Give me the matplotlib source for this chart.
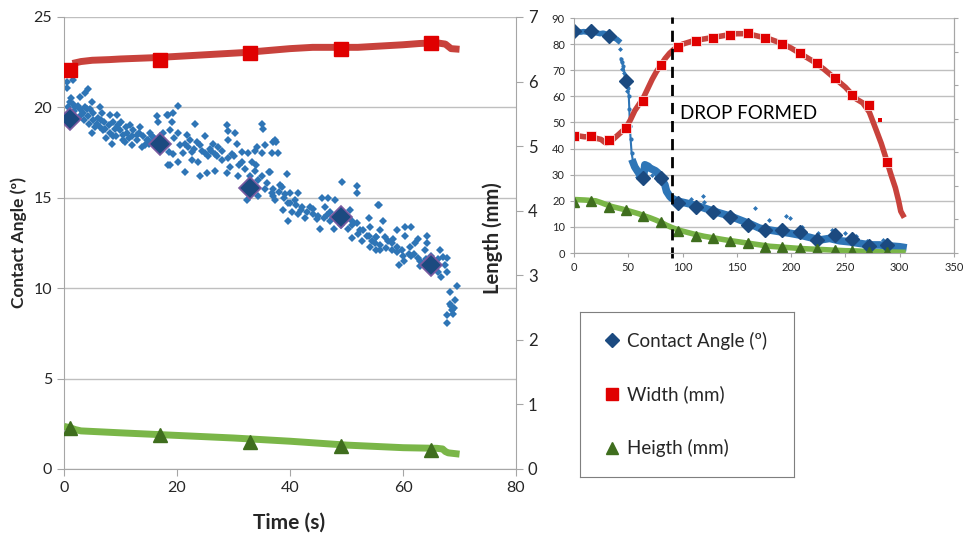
import matplotlib.pyplot as plt
from matplotlib.lines import Line2D

plt.rcParams['font.family'] = ['Lato', 'DejaVu Sans']

# ---- evaporation run (left chart) ----
ca_time = [
    0.5, 1.6, 0.5, 4.2, 3.7, 2.8, 1.3, 1.6, 0.7, 2.5, 3.7, 4.6, 5.1, 6.4, 6.7, 3.4, 4.2, 5.1, 5.8, 5.0,
    6.4, 6.9, 8.1, 8.1, 9.4, 8.7, 9.6, 9.9, 8.7, 8.5, 10.4, 11.2, 11.7, 12.2, 13.5, 12.9, 12.0, 13.8, 14.7, 15.2,
    16.5, 16.6, 15.8, 17.5, 18.4, 18.4, 14.9, 1.0, 2.0, 3.0, 4.0, 5.0, 6.0, 7.0, 8.0, 9.0, 10.0, 11.0, 12.0, 13.0,
    14.0, 15.0, 16.0, 17.0, 7.5, 10.5, 2.2,
    1.8, 2.8, 3.5, 4.5, 5.5, 6.5, 7.2, 9.2, 10.8, 11.5, 13.2, 14.3, 15.5, 16.8, 18.0,
    20.2, 19.3, 18.2, 19.1, 23.2, 18.8, 20.2, 21.7, 22.3, 23.5, 25.0, 28.8, 29.1, 30.3, 35.0, 35.3, 37.0, 35.6, 34.1, 30.6,
    29.1, 26.4, 27.3, 25.8, 24.4, 22.6, 21.1, 19.3, 18.5, 20.2, 18.8, 21.4, 24.1, 22.6, 23.8, 25.5, 26.7, 27.9, 29.7, 31.5,
    32.6, 33.8, 35.0, 33.2, 31.5, 29.4, 28.8, 30.8, 26.7, 25.3, 33.8, 34.4, 35.6, 34.4, 36.2, 36.8, 32.3,
    19.5, 20.5, 21.5, 22.0, 23.0, 24.0, 25.0, 26.0, 27.0, 28.0, 29.0, 30.0, 31.0, 32.0, 33.0, 34.0, 35.0,
    37.3, 37.6, 36.8, 37.9, 36.5, 39.4, 38.2, 38.5, 37.0, 37.3, 39.1, 40.0, 41.5, 40.9, 39.7, 38.8, 40.3, 39.7, 41.5, 42.1,
    42.7, 43.5, 44.1, 44.7, 45.3, 45.6, 46.8, 48.0, 46.2, 46.5, 47.1, 47.7, 49.2, 51.8, 51.8, 50.6, 50.9, 50.3, 51.8, 52.4,
    50.9, 52.7, 53.9, 54.2, 53.6, 54.5, 54.2, 55.3, 55.6, 55.3,
    36.0, 37.0, 38.0, 39.0, 40.0, 41.0, 42.0, 43.0, 44.0, 45.0, 46.0, 47.0, 48.0, 49.0, 50.0,
    55.8, 56.5, 55.9, 55.3, 56.8, 57.4, 55.9, 58.9, 60.4, 61.5, 60.4, 58.3, 58.9, 59.8, 58.0, 59.2, 60.1, 61.2, 62.1, 62.7,
    64.2, 64.2, 61.5, 62.7, 63.0, 63.9, 66.5, 67.1, 67.7, 66.2, 67.4, 66.2, 66.8, 67.7, 69.5, 68.3, 69.2, 68.3, 68.6, 68.9,
    67.7, 67.7, 69.0, 68.5,
    51.0, 52.0, 53.0, 54.0, 55.0, 56.0, 57.0, 58.0, 59.0, 60.0, 61.0, 62.0, 63.0, 64.0, 65.0, 66.0]
ca_angle = [
    21.1, 21.5, 21.4, 21.0, 20.8, 20.6, 20.5, 20.2, 20.0, 20.1, 20.0, 19.9, 19.7, 20.0, 19.7, 19.7, 19.5, 19.3, 19.1, 18.6,
    18.9, 18.75, 18.6, 19.6, 19.6, 19.2, 19.0, 18.75, 18.4, 18.0, 18.2, 18.6, 19.0, 18.75, 18.9, 18.5, 17.9, 17.8, 18.2, 18.6,
    19.5, 19.2, 18.1, 18.6, 19.6, 16.8, 18.2, 20.3, 20.0, 19.6, 19.9, 20.3, 19.4, 19.2, 19.0, 18.8, 19.2, 18.9, 18.4, 18.2,
    18.4, 18.0, 18.3, 17.8, 18.3, 18.5, 19.3,
    19.8, 19.9, 19.3, 19.1, 18.9, 19.3, 18.8, 18.4, 18.1, 18.3, 18.6, 17.9, 18.4, 18.2, 18.0,
    20.1, 19.7, 19.6, 19.2, 19.1, 18.75, 18.6, 18.5, 18.2, 18.1, 18.4, 19.0, 18.7, 18.6, 19.1, 18.8, 18.1, 17.9, 17.8, 18.0,
    18.2, 18.0, 17.8, 17.7, 17.6, 17.55, 17.5, 17.4, 17.55, 17.0, 16.8, 16.4, 16.2, 17.1, 17.0, 17.3, 17.4, 17.1, 17.4, 17.55,
    17.5, 17.6, 17.5, 17.0, 17.0, 16.7, 16.35, 16.2, 16.5, 16.35, 16.5, 16.0, 15.5, 15.1, 16.4, 15.25, 14.9,
    18.3, 17.9, 18.0, 17.8, 17.7, 17.9, 17.5, 17.6, 17.3, 17.6, 17.2, 17.3, 16.8, 16.6, 16.2, 16.8, 16.2,
    18.2, 18.1, 17.5, 17.5, 16.4, 16.3, 15.7, 15.6, 15.1, 14.9, 15.2, 15.25, 15.25, 14.9, 14.7, 14.3, 14.2, 13.7, 14.1, 14.5,
    13.9, 14.5, 14.1, 13.8, 13.3, 15.0, 15.0, 14.9, 14.5, 14.05, 13.7, 13.3, 15.9, 15.65, 15.25, 14.3, 13.7, 13.3, 13.6, 13.2,
    12.8, 12.6, 13.9, 13.4, 12.9, 12.6, 12.3, 12.85, 14.6, 12.1,
    15.8, 15.5, 15.3, 15.0, 14.7, 14.6, 14.3, 14.2, 14.4, 14.0, 13.9, 14.2, 13.9, 13.5, 13.9,
    14.6, 13.7, 13.2, 12.85, 12.85, 12.6, 12.1, 13.2, 13.4, 13.4, 12.9, 12.7, 12.3, 12.1, 12.1, 11.3, 11.5, 12.3, 12.5, 12.7,
    12.9, 12.5, 11.8, 11.65, 11.2, 12.1, 12.1, 11.7, 11.65, 11.6, 11.3, 10.9, 10.6, 10.9, 10.1, 9.8, 9.35, 9.1, 8.8, 8.6,
    8.5, 8.05, 8.9, 9.0,
    13.5, 13.0, 13.2, 12.9, 12.5, 12.4, 12.2, 12.5, 12.0, 11.8, 11.9, 11.9, 11.5, 11.6, 11.8, 11.3]

mark_time = [1, 17, 33, 49, 65]
mark_angle = [19.35, 18.0, 15.55, 13.95, 11.3]
mark_width = [6.18, 6.33, 6.44, 6.51, 6.59]
mark_height = [0.64, 0.52, 0.42, 0.35, 0.29]

width_time = [1.5, 3, 5, 8, 10, 13, 16, 20, 24, 28, 32, 36, 40, 44, 48, 52, 56, 60, 63, 66, 67.5, 68.5, 70]
width_mm = [6.28, 6.31, 6.33, 6.34, 6.35, 6.36, 6.37, 6.39, 6.41, 6.43, 6.45, 6.48, 6.51, 6.53, 6.53, 6.53,
            6.55, 6.57, 6.59, 6.60, 6.58, 6.51, 6.50]

height_time = [0, 1, 2, 3, 10, 20, 30, 40, 50, 60, 66, 67, 67.5, 68, 70]
height_mm = [0.66, 0.64, 0.61, 0.59, 0.56, 0.52, 0.48, 0.43, 0.37, 0.33, 0.32, 0.31, 0.27, 0.25, 0.23]

# ---- drop formation run (right chart) ----
drop_mark_time = [0, 16, 32, 48, 64, 80, 96, 112, 128, 144, 160, 176, 192, 208, 224, 240, 256, 272, 288]
drop_mark_angle = [85, 85, 83, 66, 28.7, 28.7, 19.1, 17.8, 15.9, 13.7, 10.8, 8.8, 8.8, 8.2, 5.0, 6.9, 5.3, 2.7, 3.1]
drop_mark_width = [44.7, 44.7, 43.2, 48, 58.2, 71.9, 79, 81.3, 82.2, 83.5, 84.2, 82.2, 80, 76.5, 72.7, 67.2,
                   60.4, 56.8, 34.7]
drop_mark_height = [19.7, 20, 17.6, 16.3, 14.2, 11.7, 8.6, 6.7, 5.7, 4.7, 3.7, 2.4, 2.2, 1.8, 1.5, 1.2, 0.9, 0.5, 0.5]

drop_ca_time_a = [0, 3, 6, 9, 12, 15, 18, 21, 24, 27, 30, 33, 36, 39, 41]
drop_ca_a = [85, 85, 84.6, 84.8, 84.6, 84.5, 84.6, 84.3, 84, 84.2, 83.8, 83, 82.5, 82, 81.3]
drop_ca_time_drop = [43.2, 43.9, 45.4, 47, 48.5, 50, 50.5, 51, 51.5, 52.2, 53.1, 54.6]
drop_ca_drop = [74.5, 73, 71.7, 67.8, 66, 63.3, 60, 55, 48.6, 43.5, 38.3, 34.5]
drop_ca_time_b = [54.6, 56, 57.7, 60.7, 63.8, 65.3, 68.4, 70, 73, 75, 77.6, 79.1, 81, 83.7, 85.3, 88.3, 90,
                  92.9, 96, 100.6, 106.7, 115.9, 125.1, 134.3, 143.5, 152.7, 161.9, 171.1, 180.3, 189.5,
                  198.7, 207.9, 217.1, 226.3, 235.5, 244.7, 253.9, 263.1, 272.3, 281.5, 290.7, 299.9, 303]
drop_ca_b = [34.5, 33, 31.9, 30, 28.1, 33.8, 33.2, 32.5, 31.9, 31.5, 30.6, 28.1, 28, 26.2, 23.6, 21.7, 21,
             20.4, 19.8, 19.4, 18.8, 17.8, 16.5, 15.3, 14.2, 12.7, 11.2, 9.5, 8.8, 8.2, 7.6, 6.9, 6.0, 5.0,
             5.6, 4.7, 4.3, 3.7, 3.1, 3.1, 2.7, 2.4, 2.2]
drop_ca_stray_time = [108, 119, 146.6, 166.5, 180, 195.7, 198.7, 238, 120, 250, 260, 285, 42, 44, 46, 49,
                      58, 62, 72, 210, 225, 270]
drop_ca_stray = [20.6, 21.7, 14.6, 17.2, 12.7, 14, 13.3, 8.8, 19.5, 7.5, 6.5, 5, 78, 70.5, 69, 62,
                 29, 31.5, 30, 10, 7.8, 4.8]

drop_width_time = [0, 5, 10, 15, 20, 25, 28, 30, 33, 36, 40, 44, 48, 52, 56, 60, 64, 68, 72, 76, 80, 84, 88,
                   92, 96, 100, 110, 120, 130, 140, 150, 160, 170, 180, 190, 200, 210, 220, 230, 240, 250,
                   260, 266, 272, 278, 283, 288, 292, 296, 299, 301, 303]
drop_width = [45, 44.8, 44.5, 44.7, 44, 43.5, 42.5, 42, 42.5, 43.5, 45, 46.5, 48, 51, 54.5, 57, 59.5, 63,
              66.5, 69.5, 72, 74.5, 76.5, 78, 79, 80, 81.3, 82, 82.7, 83.4, 84, 84, 83, 82, 80.5, 78.5, 76,
              73.5, 70.5, 67, 63.5, 59, 57.5, 54, 47.5, 42, 35.5, 30, 25, 20, 16, 14.5]
drop_width_stray_time = [281.5]
drop_width_stray = [50.8]

drop_height_time = [0, 10, 20, 25, 30, 35, 40, 45, 50, 55, 60, 65, 70, 75, 80, 85, 90, 95, 100, 110, 120, 130,
                    140, 150, 160, 170, 180, 190, 200, 210, 220, 230, 240, 250, 260, 270, 280, 290, 303]
drop_height = [20.5, 20.3, 20, 19.3, 18.5, 17.8, 17.3, 16.8, 16.2, 15.6, 15, 14.2, 13.5, 12.7, 11.8, 10.7,
               9.8, 9, 8.4, 7.3, 6.4, 5.7, 5, 4.4, 3.8, 3.2, 2.6, 2.3, 2, 1.7, 1.5, 1.3, 1.1, 0.9, 0.8,
               0.6, 0.5, 0.4, 0.3]
drop_time = 90

BLUE = '#2E75B6'
NAVY = '#1B4A80'
RED = '#E00000'
RED_LINE = '#C8423C'
GREEN = '#3F6E1E'
GREEN_LINE = '#7AB648'
GRID = '#BFBFBF'
SPINE = '#A6A6A6'
TXT = '#262626'

fig = plt.figure(figsize=(9.64, 5.43), dpi=100)

# left chart
ax = fig.add_axes([0.0664, 0.1363, 0.4689, 0.8324])
ax.set_xlim(0, 80)
ax.set_ylim(0, 25)
ax.set_xticks(range(0, 81, 20))
ax.set_yticks(range(0, 26, 5))
ax.yaxis.grid(True, color=GRID, lw=1)
ax.set_axisbelow(True)
for s in ['top', 'right']:
    ax.spines[s].set_visible(False)
for s in ['left', 'bottom']:
    ax.spines[s].set_color(SPINE)
ax.tick_params(direction='out', length=5, color=SPINE, labelsize=11.5, labelcolor=TXT)

ax.plot(ca_time, ca_angle, 'D', color=BLUE, ms=3.8, mew=0)
ax.plot(mark_time, mark_angle, 'D', color=NAVY, ms=11, mec='#7A5AA0', mew=1.2, zorder=4)

ax2 = ax.twinx()
ax2.set_ylim(0, 7)
ax2.set_yticks(range(0, 8))
for s in ['top', 'left', 'bottom']:
    ax2.spines[s].set_visible(False)
ax2.spines['right'].set_color(SPINE)
ax2.tick_params(direction='out', length=5, color=SPINE, labelsize=12, labelcolor=TXT)

ax2.plot(width_time, width_mm, '-', color=RED_LINE, lw=5, solid_capstyle='butt')
ax2.plot(mark_time, mark_width, 's', color=RED, ms=9.5)
ax2.plot(height_time, height_mm, '-', color=GREEN_LINE, lw=5, solid_capstyle='butt')
ax2.plot(mark_time, mark_height, '^', color=GREEN, ms=10)

fig.text(0.30, 0.038, 'Time (s)', ha='center', va='center', fontsize=15, fontweight='bold', color=TXT)
fig.text(0.019, 0.553, 'Contact Angle (º)', ha='center', va='center', rotation=90,
         fontsize=12.5, fontweight='bold', color=TXT)
fig.text(0.511, 0.562, 'Length (mm)', ha='center', va='center', rotation=90,
         fontsize=14.5, fontweight='bold', color=TXT)

# right chart
axr = fig.add_axes([0.5954, 0.534, 0.3942, 0.4328])
axr.set_xlim(0, 350)
axr.set_ylim(0, 90)
axr.set_xticks(range(0, 351, 50))
axr.set_yticks(range(0, 91, 10))
axr.yaxis.grid(True, color=GRID, lw=1)
axr.set_axisbelow(True)
axr.spines['top'].set_visible(False)
for s in ['left', 'bottom', 'right']:
    axr.spines[s].set_color(SPINE)
axr.tick_params(direction='out', length=3, color=SPINE, labelsize=8, labelcolor=TXT)

axr.plot(drop_ca_time_a, drop_ca_a, '-', color=BLUE, lw=4)
axr.plot(drop_ca_time_drop, drop_ca_drop, '.', color=BLUE, ms=4)
axr.plot(drop_ca_time_drop, drop_ca_drop, '-', color=BLUE, lw=1.5)
axr.plot(drop_ca_time_b, drop_ca_b, '-', color=BLUE, lw=5.5)
axr.plot(drop_ca_stray_time, drop_ca_stray, 'D', color=BLUE, ms=2.5, mew=0)
axr.plot(drop_width_time, drop_width, '-', color=RED_LINE, lw=4)
axr.plot(drop_width_stray_time, drop_width_stray, 's', color=RED, ms=2.5, mew=0)
axr.plot(drop_height_time, drop_height, '-', color=GREEN_LINE, lw=4)
axr.plot(drop_mark_time, drop_mark_angle, 'D', color=NAVY, ms=7)
axr.plot(drop_mark_time, drop_mark_width, 's', color=RED, ms=7, mec='white', mew=0.5)
axr.plot(drop_mark_time, drop_mark_height, '^', color=GREEN, ms=7)

axr.axvline(drop_time, ymin=-0.02, ymax=1.005, color='black', ls=(0, (4, 2.5)), lw=2, clip_on=False)
axr.text(drop_time + 8, 53.5, 'DROP FORMED', ha='left', va='center', fontsize=13.5, color='black')

axr2 = axr.twinx()
axr2.set_ylim(0, 7)
axr2.set_yticks(range(0, 8))
axr2.set_yticklabels([])
for s in ['top', 'left', 'bottom']:
    axr2.spines[s].set_visible(False)
axr2.spines['right'].set_color(SPINE)
axr2.tick_params(direction='out', length=3, color=SPINE)

# legend box
legax = fig.add_axes([0.6017, 0.1215, 0.222, 0.304])
legax.set_xticks([])
legax.set_yticks([])
for s in legax.spines.values():
    s.set_color('#7F7F7F')
handles = [Line2D([], [], ls='none', marker='D', color=NAVY, ms=7),
           Line2D([], [], ls='none', marker='s', color=RED, ms=8),
           Line2D([], [], ls='none', marker='^', color=GREEN, ms=8.5)]
labels = ['Contact Angle (º)', 'Width (mm)', 'Heigth (mm)']
legax.legend(handles, labels, loc='center left', bbox_to_anchor=(0.035, 0.5), frameon=False,
             fontsize=13.5, handlelength=0.8, handletextpad=0.4, labelspacing=1.9, labelcolor=TXT)

fig.savefig('out.png', dpi=100)
